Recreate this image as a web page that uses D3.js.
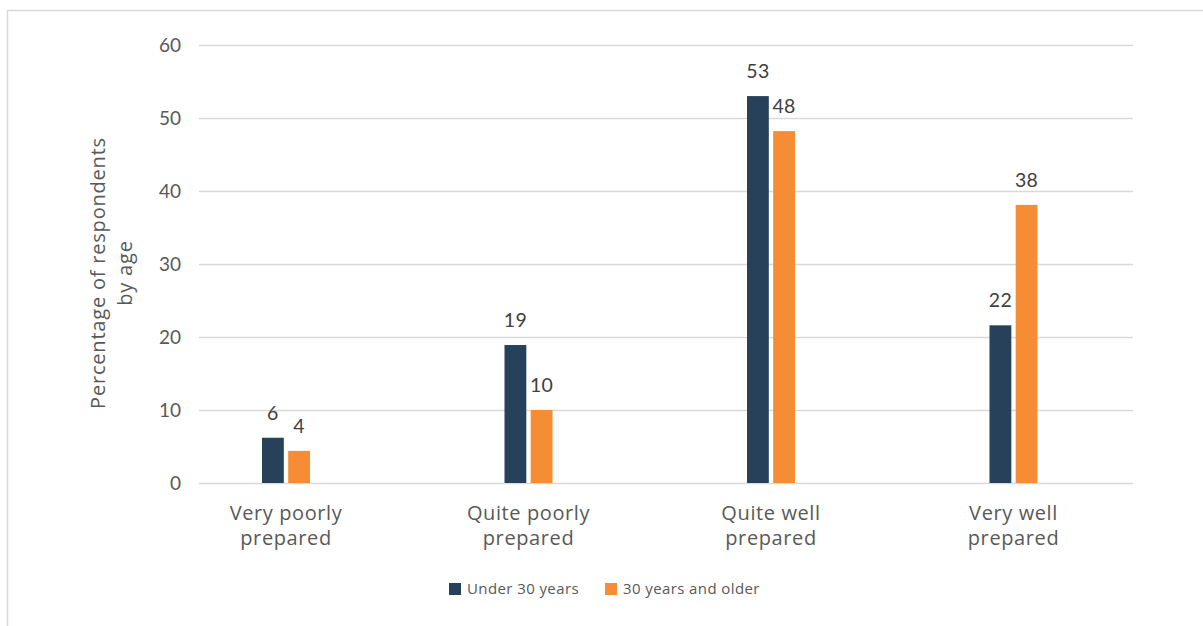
<!DOCTYPE html>
<html>
<head>
<meta charset="utf-8">
<script src="https://cdn.jsdelivr.net/npm/d3@7"></script>
<style>
  html, body { margin: 0; padding: 0; background: #fff; }
  svg { display: block; font-family: Lato, "Open Sans", sans-serif; }
  .word { font-family: "Open Sans", Lato, sans-serif; }
</style>
</head>
<body>
<svg id="chart" width="1203" height="626"></svg>
<script>
// Preparedness categories and the share of respondents in each age group
const categories = ["Very poorly prepared", "Quite poorly prepared", "Quite well prepared", "Very well prepared"];
const seriesNames = ["Under 30 years", "30 years and older"];
const under30 = [6.2, 18.9, 53.0, 21.6];
const over30 = [4.4, 10.0, 48.2, 38.1];
const yTicks = [0, 10, 20, 30, 40, 50, 60];
const colors = ["#264159", "#f68c33"];

const svg = d3.select("#chart");
const textColor = "#595959";

// Outer frame
svg.append("rect")
  .attr("x", 7.5).attr("y", 10.5)
  .attr("width", 1300).attr("height", 700)
  .attr("fill", "none").attr("stroke", "#d9d9d9").attr("stroke-width", 1.5);

const y = d3.scaleLinear().domain([0, 60]).range([483, 45]);
const x = d3.scaleBand().domain(categories).range([164.75, 1134.75]);
const xSeries = d3.scaleBand().domain(seriesNames).range([-24, 24]).paddingInner(8 / 48);

// Horizontal gridlines
svg.append("g")
  .selectAll("line")
  .data(yTicks)
  .join("line")
  .attr("x1", 199).attr("x2", 1133)
  .attr("y1", d => Math.round(y(d)) + 0.5)
  .attr("y2", d => Math.round(y(d)) + 0.5)
  .attr("stroke", "#d9d9d9").attr("stroke-width", 1.3);

// Y axis tick labels
const yAxis = d3.axisLeft(y).tickValues(yTicks).tickSize(0).tickPadding(0);
const gy = svg.append("g").attr("transform", "translate(181,0)").call(yAxis);
gy.select(".domain").remove();
gy.selectAll("text")
  .attr("fill", textColor)
  .style("font-size", "19px")
  .style("font-family", "Lato, 'Open Sans', sans-serif");

// Y axis title (two lines)
const yTitle = svg.append("text")
  .attr("class", "word")
  .attr("transform", "translate(105,273) rotate(-90)")
  .attr("text-anchor", "middle")
  .attr("fill", textColor)
  .style("font-size", "20px")
  .style("letter-spacing", "0.8px");
yTitle.append("tspan").attr("x", 0).attr("dy", 0).text("Percentage of respondents");
yTitle.append("tspan").attr("x", 0).attr("dy", 27).text("by age");

// Bars
const rows = categories.map((c, i) => ({
  category: c,
  values: [
    { series: seriesNames[0], value: under30[i], color: colors[0] },
    { series: seriesNames[1], value: over30[i], color: colors[1] }
  ]
}));

const groups = svg.append("g")
  .selectAll("g")
  .data(rows)
  .join("g")
  .attr("transform", d => `translate(${x(d.category) + x.bandwidth() / 2},0)`);

groups.selectAll("rect")
  .data(d => d.values)
  .join("rect")
  .attr("x", d => xSeries(d.series))
  .attr("width", xSeries.bandwidth())
  .attr("y", d => y(d.value))
  .attr("height", d => y(0) - y(d.value))
  .attr("fill", d => d.color);

// Value labels above bars
groups.selectAll("text.value")
  .data(d => d.values)
  .join("text")
  .attr("class", "value")
  .attr("x", d => xSeries(d.series) + xSeries.bandwidth() / 2)
  .attr("y", d => y(d.value) - 18)
  .attr("text-anchor", "middle")
  .attr("fill", "#404040")
  .style("font-size", "19.5px")
  .style("letter-spacing", "0.3px")
  .text(d => d3.format(".0f")(d.value));

// Category labels (wrapped onto two lines)
const catLabels = svg.append("g")
  .selectAll("text")
  .data(categories)
  .join("text")
  .attr("class", "word")
  .attr("x", d => x(d) + x.bandwidth() / 2)
  .attr("y", 520)
  .attr("text-anchor", "middle")
  .attr("fill", textColor)
  .style("font-size", "20px")
  .style("letter-spacing", "0.6px");
catLabels.append("tspan")
  .attr("x", d => x(d) + x.bandwidth() / 2)
  .text(d => d.slice(0, d.lastIndexOf(" ")));
catLabels.append("tspan")
  .attr("x", d => x(d) + x.bandwidth() / 2)
  .attr("dy", 25)
  .text(d => d.slice(d.lastIndexOf(" ") + 1));

// Legend
const legendX = [449, 605];
const legend = svg.append("g")
  .selectAll("g")
  .data(seriesNames)
  .join("g")
  .attr("transform", (d, i) => `translate(${legendX[i]},583)`);
legend.append("rect")
  .attr("width", 12).attr("height", 12)
  .attr("fill", (d, i) => colors[i]);
legend.append("text")
  .attr("class", "word")
  .attr("x", 18).attr("y", 11)
  .attr("fill", textColor)
  .style("font-size", "15px")
  .style("letter-spacing", "0.4px")
  .text(d => d);
</script>
</body>
</html>
